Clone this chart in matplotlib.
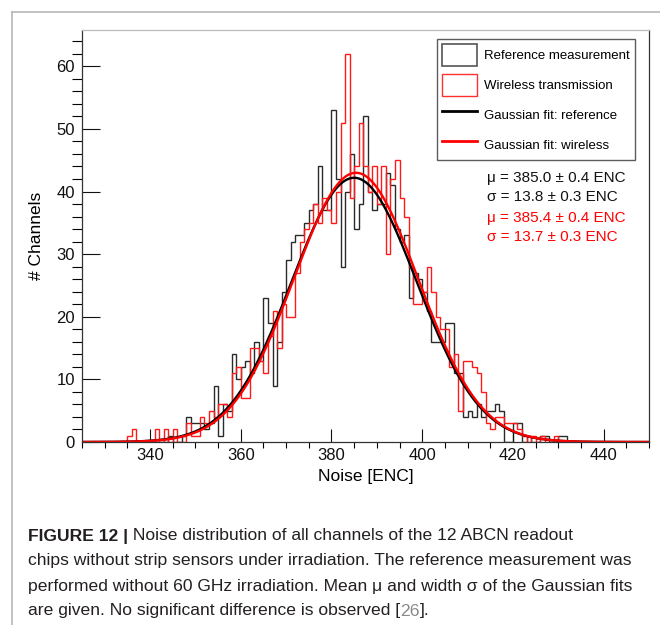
import numpy as np
import matplotlib
matplotlib.use("Agg")
import matplotlib.pyplot as plt
from matplotlib.patches import Patch
from matplotlib.lines import Line2D
from matplotlib.ticker import MultipleLocator

plt.rcParams['font.family'] = ['Liberation Sans', 'DejaVu Sans']

# histogram bins: 1 ENC wide, from 325 to 450
bin_lo, bin_hi = 325, 450

# counts per bin, starting at 325
ref_counts = [0, 0, 0, 0, 0, 0, 0, 0, 0, 0,
              0, 0, 0, 0, 0, 0, 0, 0, 0, 1,
              0, 0, 1, 4, 3, 3, 3, 2, 3, 9,
              1, 6, 5, 14, 10, 12, 13, 11, 16, 13,
              23, 19, 9, 16, 24, 29, 32, 33, 33, 35,
              37, 38, 44, 37, 37, 53, 42, 28, 40, 46,
              34, 38, 52, 40, 37, 38, 38, 43, 41, 34,
              32, 33, 23, 27, 26, 24, 21, 16, 16, 16,
              19, 19, 11, 11, 4, 5, 4, 6, 4, 5,
              5, 6, 5, 0, 0, 3, 3, 0, 1, 0,
              0, 1, 1, 0, 0, 1, 1, 0, 0, 0,
              0, 0, 0, 0, 0, 0, 0, 0, 0, 0,
              0, 0, 0, 0, 0]
wl_counts = [0, 0, 0, 0, 0, 0, 0, 0, 0, 0,
             1, 2, 0, 0, 0, 0, 2, 0, 2, 0,
             2, 0, 0, 3, 1, 1, 4, 3, 5, 4,
             6, 6, 4, 11, 12, 7, 7, 15, 15, 13,
             11, 17, 21, 15, 22, 20, 20, 27, 32, 34,
             35, 38, 35, 39, 37, 35, 40, 51, 62, 39,
             44, 51, 44, 40, 44, 38, 44, 30, 42, 45,
             39, 36, 28, 22, 22, 24, 28, 24, 20, 18,
             18, 12, 14, 5, 13, 13, 12, 11, 8, 3,
             2, 4, 4, 3, 3, 3, 2, 1, 0, 1,
             0, 1, 0, 0, 1, 0, 0, 0, 0, 0,
             0, 0, 0, 0, 0, 0, 0, 0, 0, 0,
             0, 0, 0, 0, 0]

# gaussian fit parameters
ref_mu, ref_sigma, ref_amp = 385.0, 13.8, 42.2
wl_mu, wl_sigma, wl_amp = 385.4, 13.7, 43.0

legend_labels = ["Reference measurement", "Wireless transmission",
                 "Gaussian fit: reference", "Gaussian fit: wireless"]
fit_texts = ["\u03bc = 385.0 \u00b1 0.4 ENC", "\u03c3 = 13.8 \u00b1 0.3 ENC",
             "\u03bc = 385.4 \u00b1 0.4 ENC", "\u03c3 = 13.7 \u00b1 0.3 ENC"]

W, H = 660, 625
fig = plt.figure(figsize=(W / 100, H / 100), dpi=100)
ax = fig.add_axes([82 / W, 1 - 442 / H, 567 / W, 412 / H])

edges = np.arange(bin_lo, bin_hi + 1)
ax.stairs(ref_counts, edges, color='#2a2a2a', lw=1.0)
ax.stairs(wl_counts, edges, color='#ff1a1a', lw=1.0)

xs = np.linspace(bin_lo, bin_hi, 800)
ax.plot(xs, ref_amp * np.exp(-0.5 * ((xs - ref_mu) / ref_sigma) ** 2), color='black', lw=1.7)
ax.plot(xs, wl_amp * np.exp(-0.5 * ((xs - wl_mu) / wl_sigma) ** 2), color='#ff0000', lw=1.7)

ax.set_xlim(bin_lo, bin_hi)
ax.set_ylim(0, 65.8)
ax.xaxis.set_minor_locator(MultipleLocator(5))
ax.yaxis.set_major_locator(MultipleLocator(10))
ax.yaxis.set_minor_locator(MultipleLocator(2))
ax.set_xticks(range(340, 441, 20))
ax.tick_params(direction='in', labelsize=12, colors='#111111')
ax.tick_params(axis='x', which='major', length=9.5, width=0.8, pad=4)
ax.tick_params(axis='x', which='minor', length=4.5, width=0.8)
ax.tick_params(axis='y', which='major', length=13, width=0.8, pad=5)
ax.tick_params(axis='y', which='minor', length=7, width=0.8)
for s in ax.spines.values():
    s.set_linewidth(0.9)
    s.set_color('#333333')
ax.spines['top'].set_color('#bbbbbb')

ax.set_xlabel("Noise [ENC]", fontsize=12.5, labelpad=5)
ax.set_ylabel("# Channels", fontsize=12.5, labelpad=9)

handles = [Patch(facecolor='none', edgecolor='#555555', lw=1.2),
           Patch(facecolor='none', edgecolor='#ff3030', lw=1.0),
           Line2D([], [], color='black', lw=2),
           Line2D([], [], color='#ff0000', lw=2)]
leg = ax.legend(handles, legend_labels, loc='upper left', bbox_to_anchor=(0.626, 0.978),
                fontsize=9.5, frameon=True, fancybox=False, borderpad=0.35,
                handlelength=2.7, handleheight=2.2, handletextpad=0.55,
                labelspacing=0.6, borderaxespad=0)
leg.get_frame().set_edgecolor('#333333')
leg.get_frame().set_linewidth(1.0)

text_y = [0.641, 0.595, 0.544, 0.498]
text_c = ['#111111', '#111111', '#ff0000', '#ff0000']
for t, yy, c in zip(fit_texts, text_y, text_c):
    ax.text(0.714, yy, t, transform=ax.transAxes, fontsize=11, color=c, va='center')

# page frame lines
fig.add_artist(Line2D([12 / W, 12 / W], [0, 1 - 12 / H], transform=fig.transFigure,
                      color='#b8b8b8', lw=1.2))
fig.add_artist(Line2D([12 / W, 1], [1 - 12 / H, 1 - 12 / H], transform=fig.transFigure,
                      color='#b8b8b8', lw=1.2))

# caption
ink = '#231f20'
cap_lines = [
    [("FIGURE 12 |", 'bold', ink), (" Noise distribution of all channels of the 12 ABCN readout", 'normal', ink)],
    [("chips without strip sensors under irradiation. The reference measurement was", 'normal', ink)],
    [("performed without 60 GHz irradiation. Mean \u03bc and width \u03c3 of the Gaussian fits", 'normal', ink)],
    [("are given. No significant difference is observed [", 'normal', ink), ("26", 'normal', '#8a8a8a'),
     ("].", 'normal', ink)],
]
cap_y = [536, 561, 586, 611]
fig.canvas.draw()
renderer = fig.canvas.get_renderer()

# size the caption so the second line is as wide as in the page (~604 px)
probe = fig.text(0, 0, cap_lines[1][0][0], fontsize=12)
cap_size = 12 * 604 / probe.get_window_extent(renderer=renderer).width
probe.remove()

for runs, yy in zip(cap_lines, cap_y):
    x = 28 / W
    for s, wt, c in runs:
        t = fig.text(x, 1 - yy / H, s, fontsize=cap_size, fontweight=wt, color=c, va='center')
        bb = t.get_window_extent(renderer=renderer)
        x = bb.x1 / fig.bbox.width

fig.savefig("out.png", dpi=100)
